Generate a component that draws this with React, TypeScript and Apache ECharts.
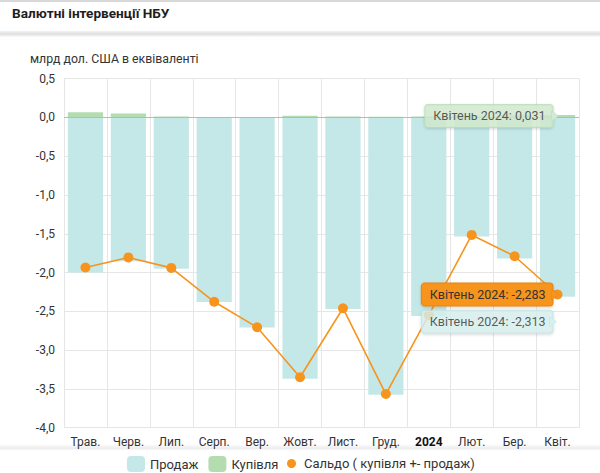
import React, { useEffect, useRef } from "react";
import * as echarts from "echarts";

const categories = ["Трав.", "Черв.", "Лип.", "Серп.", "Вер.", "Жовт.", "Лист.", "Груд.", "2024", "Лют.", "Бер.", "Квіт."];
const sales = [-2.0, -1.855, -1.95, -2.38, -2.71, -3.37, -2.47, -3.575, -2.56, -1.535, -1.82, -2.313];
const purchases = [0.065, 0.05, 0.01, 0.003, 0.005, 0.02, 0.01, 0.009, 0.01, 0.02, 0.03, 0.031];
const saldo = [-1.935, -1.805, -1.94, -2.377, -2.705, -3.35, -2.46, -3.566, -2.55, -1.515, -1.79, -2.283];
const yTicks = { min: -4, max: 0.5, interval: 0.5 };
const tooltipMonth = "Квітень 2024";

const FONT = "Roboto";
const SALES_COLOR = "#c4e8e8";
const BUY_COLOR = "#b4dcb1";
const SALDO_COLOR = "#f7941d";

const fmt = (v: number, d: number) => v.toFixed(d).replace(".", ",");

const boxLabel = (value: number, bg: string, border: string, color: string) => ({
  show: true,
  formatter: () => `${tooltipMonth}: ${fmt(value, 3)}`,
  fontFamily: FONT,
  fontSize: 12.5,
  color,
  backgroundColor: bg,
  borderColor: border,
  borderWidth: 1,
  borderRadius: 3,
  padding: [5, 7, 4, 8],
  shadowColor: "rgba(0,0,0,0.18)",
  shadowBlur: 3,
  shadowOffsetY: 1,
});

export default function App() {
  const ref = useRef<HTMLDivElement>(null);
  useEffect(() => {
    if (!ref.current) return;
    const chart = echarts.init(ref.current, null, { renderer: "svg" });
    const last = categories.length - 1;

    const saldoData = saldo.map((v, i) =>
      i === last
        ? {
            value: v,
            label: {
              ...boxLabel(v, SALDO_COLOR, "#e8850f", "#333"),
              position: "left",
              distance: 0,
            },
          }
        : v
    );

    const annotation = (name: string, v: number, bg: string, border: string, dy: number) => ({
      name,
      type: "scatter",
      silent: true,
      symbolSize: 0,
      z: 10,
      data: [[last, v]],
      label: {
        ...boxLabel(v, bg, border, "#333"),
        position: "left",
        distance: 5,
        offset: [0, dy],
      },
    });

    const option: any = {
      animation: false,
      textStyle: { fontFamily: FONT },
      grid: { left: 64, right: 21, top: 78.6, bottom: 45.3, containLabel: false },
      legend: [
        {
          data: ["Продаж", "Купівля"],
          left: 122,
          top: 451,
          itemWidth: 18,
          itemHeight: 16,
          itemGap: 10,
          icon: "roundRect",
          textStyle: { fontFamily: FONT, fontSize: 13, color: "#333" },
        },
        {
          data: [{ name: "Сальдо ( купівля +- продаж)", icon: "circle" }],
          left: 282,
          top: 452,
          itemWidth: 9,
          itemHeight: 9,
          textStyle: { fontFamily: FONT, fontSize: 13, color: "#333", padding: [0, 0, 0, 3] },
        },
      ],
      xAxis: {
        type: "category",
        data: categories,
        axisLine: { show: false },
        axisTick: { show: false },
        splitLine: { show: true, interval: 0, lineStyle: { color: "#e6e6e6", width: 1 } },
        axisLabel: {
          interval: 0,
          color: "#333",
          fontSize: 12,
          margin: 8,
          formatter: (v: string) => (v === "2024" ? `{b|${v}}` : v),
          rich: { b: { fontWeight: "bold", color: "#111", fontSize: 12, fontFamily: FONT } },
        },
      },
      yAxis: {
        type: "value",
        min: yTicks.min,
        max: yTicks.max,
        interval: yTicks.interval,
        axisLine: { show: false },
        axisTick: { show: false },
        splitLine: { lineStyle: { color: "#e6e6e6", width: 1 } },
        axisLabel: {
          color: "#333",
          fontSize: 12,
          margin: 9,
          formatter: (v: number) => fmt(v, 1),
        },
      },
      series: [
        {
          name: "Продаж",
          type: "bar",
          stack: "fx",
          data: sales,
          barCategoryGap: "18%",
          itemStyle: { color: SALES_COLOR },
          z: 2,
          markLine: {
            silent: true,
            symbol: "none",
            label: { show: false },
            lineStyle: { color: "#b8b8b8", width: 1, type: "solid" },
            data: [{ yAxis: 0 }],
          },
        },
        {
          name: "Купівля",
          type: "bar",
          stack: "fx",
          data: purchases,
          barCategoryGap: "18%",
          itemStyle: { color: BUY_COLOR },
          z: 2,
        },
        {
          name: "Сальдо ( купівля +- продаж)",
          type: "line",
          data: saldoData,
          symbol: "circle",
          symbolSize: 10,
          itemStyle: { color: SALDO_COLOR },
          lineStyle: { color: SALDO_COLOR, width: 1.6 },
          z: 5,
        },
        annotation("tip-sales", sales[last], "#d9f0f0", "#c0e2e2", 25),
        annotation("tip-buy", purchases[last], "#d3ebd0", "#b8dcb4", 1),
      ],
      graphic: [
        { type: "rect", shape: { x: 0, y: 0, width: 600, height: 2 }, style: { fill: "#d8d8d8" }, silent: true },
        {
          type: "text",
          left: 12,
          top: 6,
          style: { text: "Валютні інтервенції НБУ", font: `bold 13.6px ${FONT}`, fill: "#1e1e1e" },
        },
        {
          type: "rect",
          shape: { x: 0, y: 31, width: 600, height: 6 },
          silent: true,
          style: {
            fill: new echarts.graphic.LinearGradient(0, 0, 0, 1, [
              { offset: 0, color: "#f4f4f4" },
              { offset: 0.5, color: "#dedede" },
              { offset: 1, color: "#fbfbfb" },
            ]),
          },
        },
        {
          type: "text",
          left: 30,
          top: 53,
          style: { text: "млрд дол. США в еквіваленті", font: `12.3px ${FONT}`, fill: "#333" },
        },
        {
          type: "rect",
          shape: { x: 0, y: 444, width: 600, height: 6 },
          silent: true,
          z: -1,
          style: {
            fill: new echarts.graphic.LinearGradient(0, 0, 0, 1, [
              { offset: 0, color: "#ffffff" },
              { offset: 0.7, color: "#ededed" },
              { offset: 1, color: "#f8f8f8" },
            ]),
          },
        },
      ],
    };
    chart.setOption(option);

    // callout arrows for the three tooltip boxes
    const pt = (v: number) => chart.convertToPixel({ xAxisIndex: 0, yAxisIndex: 0 }, [last, v]) as number[];
    const pBuy = pt(purchases[last]);
    const pSales = pt(sales[last]);
    const pSaldo = pt(saldo[last]);
    const arrow = (x: number, y: number, fill: string, stroke: string) => ({
      type: "polygon",
      z: 100,
      silent: true,
      shape: { points: [[x - 6, y - 5], [x + 1, y], [x - 6, y + 5]] },
      style: { fill, stroke, lineWidth: 0.5 },
    });
    chart.setOption({
      graphic: [
        ...option.graphic,
        arrow(pBuy[0], pBuy[1] + 1, "#d3ebd0", "#b8dcb4"),
        arrow(pSaldo[0], pSaldo[1], SALDO_COLOR, "#e8850f"),
        arrow(pSales[0] - 2, pSales[1] + 25, "#d9f0f0", "#c0e2e2"),
      ],
    });

    return () => chart.dispose();
  }, []);

  return <div ref={ref} style={{ position: "fixed", left: 0, top: 0, width: 600, height: 473, background: "#fff" }} />;
}
